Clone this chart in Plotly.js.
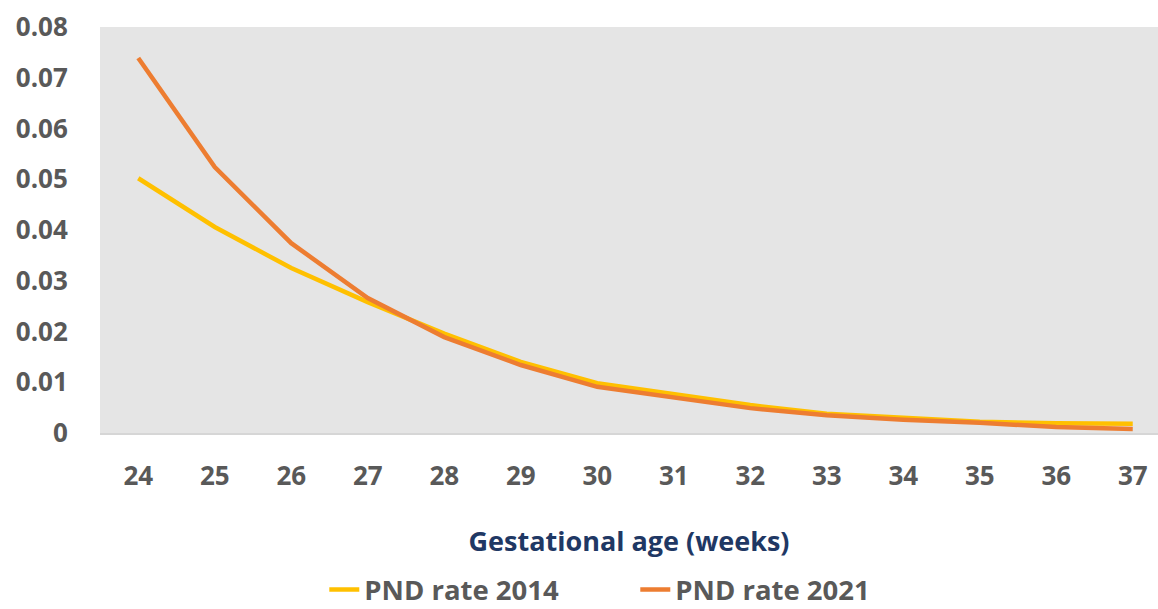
<!DOCTYPE html>
<html>
<head>
<meta charset="utf-8">
<script src="https://cdn.plot.ly/plotly-3.0.1.min.js"></script>
<style>
  html, body { margin: 0; padding: 0; background: #fff; }
  #chart { width: 1158px; height: 609px; }
</style>
</head>
<body>
<div id="chart"></div>
<script>
// gestational age in weeks
const weeks = [24, 25, 26, 27, 28, 29, 30, 31, 32, 33, 34, 35, 36, 37];

// perinatal death rates
const pnd2014 = [0.0502, 0.0406, 0.0325, 0.0258, 0.0196, 0.0140, 0.0098, 0.0076, 0.0055, 0.0038, 0.0029, 0.0022, 0.0019, 0.0018];
const pnd2021 = [0.0739, 0.0524, 0.0374, 0.0266, 0.0189, 0.0134, 0.0091, 0.0069, 0.0049, 0.0035, 0.0026, 0.0020, 0.0012, 0.0008];

const yTicks = [0, 0.01, 0.02, 0.03, 0.04, 0.05, 0.06, 0.07, 0.08];
const yTickText = ['0', '0.01', '0.02', '0.03', '0.04', '0.05', '0.06', '0.07', '0.08'];

const labelFont = { family: 'Open Sans, sans-serif', size: 26, color: '#595959', weight: 700 };

const traces = [
  {
    type: 'scatter',
    mode: 'lines',
    name: 'PND rate 2014',
    x: weeks,
    y: pnd2014,
    line: { color: '#FFC000', width: 4.5 }
  },
  {
    type: 'scatter',
    mode: 'lines',
    name: 'PND rate 2021',
    x: weeks,
    y: pnd2021,
    line: { color: '#ED7D31', width: 4.5 }
  }
];

const layout = {
  width: 1158,
  height: 609,
  margin: { l: 100, r: 0, t: 27, b: 176 },
  paper_bgcolor: '#ffffff',
  plot_bgcolor: '#E5E5E5',
  showlegend: true,
  legend: {
    orientation: 'h',
    xref: 'paper',
    x: 0.212,
    xanchor: 'left',
    yref: 'container',
    y: 0.032,
    yanchor: 'middle',
    entrywidth: 266,
    entrywidthmode: 'pixels',
    font: { family: 'Open Sans, sans-serif', size: 27.5, color: '#595959', weight: 700 },
    bgcolor: 'rgba(0,0,0,0)'
  },
  xaxis: {
    range: [23.5, 37.33],
    tickvals: weeks,
    ticks: 'outside',
    ticklen: 19,
    tickcolor: 'rgba(0,0,0,0)',
    tickfont: labelFont,
    showgrid: false,
    zeroline: false,
    showline: true,
    linecolor: '#D6D6D6',
    linewidth: 2,
    fixedrange: true,
    title: {
      text: 'Gestational age (weeks)',
      font: { family: 'Open Sans, sans-serif', size: 27, color: '#1F3864', weight: 700 },
      standoff: 40
    }
  },
  yaxis: {
    range: [0, 0.08],
    tickvals: yTicks,
    ticktext: yTickText,
    ticks: 'outside',
    ticklen: 26,
    tickcolor: 'rgba(0,0,0,0)',
    tickfont: labelFont,
    showgrid: false,
    zeroline: false,
    showline: false,
    fixedrange: true
  }
};

Plotly.newPlot('chart', traces, layout, { displayModeBar: false, staticPlot: true });
</script>
</body>
</html>
